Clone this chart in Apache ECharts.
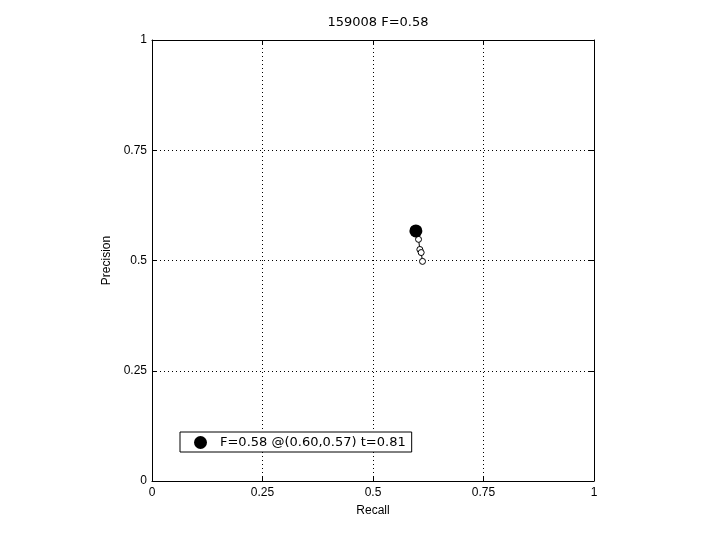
<!DOCTYPE html>
<html><head><meta charset="utf-8">
<script src="https://cdn.jsdelivr.net/npm/echarts@6/dist/echarts.min.js"></script>
<style>html,body{margin:0;padding:0;background:#fff}#c{width:720px;height:540px}</style>
</head><body><div id="c"></div>
<script>
const titleText = "159008 F=0.58";
const xName = "Recall";
const yName = "Precision";
const legendText = "F=0.58 @(0.60,0.57) t=0.81";
const curveRecall = [0.597, 0.600, 0.603, 0.606, 0.609, 0.612];
const curvePrecision = [0.567, 0.560, 0.548, 0.525, 0.518, 0.498];
const bestPoint = [0.597, 0.567];
const ticks = [0, 0.25, 0.5, 0.75, 1];

const font = "Liberation Sans";
const wideFont = "DejaVu Sans";
const chart = echarts.init(document.getElementById('c'));
const curve = curveRecall.map((r, i) => [r, curvePrecision[i]]);
const axisBase = {
  min: 0, max: 1, interval: 0.25,
  axisLine: {show: true, onZero: false, lineStyle: {color: '#000', width: 1}},
  axisTick: {show: true, inside: true, length: 5, lineStyle: {color: '#000'}},
  splitLine: {show: false}
};
chart.setOption({
  animation: false,
  backgroundColor: '#fff',
  title: {text: titleText, left: 373, top: 11, textAlign: 'center',
    textStyle: {fontFamily: wideFont, fontSize: 13, fontWeight: 'normal', color: '#000'}},
  grid: {left: 152, right: 126, top: 40, bottom: 59},
  xAxis: [
    Object.assign({}, axisBase, {type: 'value', position: 'bottom', name: xName, nameLocation: 'middle', nameGap: 24,
      nameTextStyle: {fontFamily: font, fontSize: 12, color: '#000'},
      axisLabel: {fontFamily: font, fontSize: 12, color: '#000', margin: 6, formatter: v => String(v)},
      splitLine: {show: true, lineStyle: {color: '#000', type: [1, 3], width: 1}}}),
    Object.assign({}, axisBase, {type: 'value', position: 'top', axisLabel: {show: false}})
  ],
  yAxis: [
    Object.assign({}, axisBase, {type: 'value', position: 'left', name: yName, nameLocation: 'middle', nameGap: 38,
      nameTextStyle: {fontFamily: font, fontSize: 12, color: '#000'},
      axisLabel: {fontFamily: font, fontSize: 12, color: '#000', margin: 5, formatter: v => String(v)},
      splitLine: {show: true, lineStyle: {color: '#000', type: [1, 3], width: 1}}}),
    Object.assign({}, axisBase, {type: 'value', position: 'right', axisLabel: {show: false}})
  ],
  legend: {
    left: 180, top: 432, orient: 'horizontal',
    data: [{name: legendText, icon: 'circle'}],
    itemWidth: 13, itemHeight: 13, itemGap: 10,
    padding: [4, 6, 3, 14],
    borderColor: '#000', borderWidth: 1, backgroundColor: '#fff',
    textStyle: {fontFamily: wideFont, fontSize: 13, color: '#000', padding: [0, 0, 0, 8]}
  },
  series: [
    {type: 'line', name: 'curve', data: curve, symbol: 'circle', symbolSize: 6,
      lineStyle: {color: '#000', width: 1}, itemStyle: {color: '#fff', borderColor: '#000', borderWidth: 1},
      showSymbol: true, z: 2},
    {type: 'scatter', name: legendText, data: [bestPoint], symbol: 'circle', symbolSize: 13,
      itemStyle: {color: '#000', opacity: 1}, z: 3}
  ]
});
</script></body></html>
